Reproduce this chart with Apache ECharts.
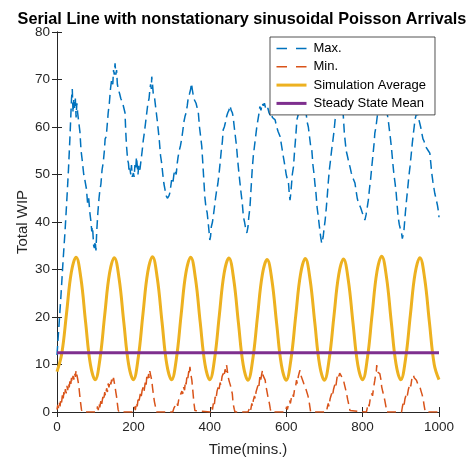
<!DOCTYPE html>
<html>
<head>
<meta charset="utf-8">
<script src="https://cdn.jsdelivr.net/npm/echarts@6/dist/echarts.min.js"></script>
<style>html,body{margin:0;padding:0;background:#fff;}#c{width:468px;height:462px;}</style>
</head>
<body>
<div id="c"></div>
<script>
const titleText = 'Serial Line with nonstationary sinusoidal Poisson Arrivals';
const xName = 'Time(mins.)';
const yName = 'Total WIP';
const seriesNames = ['Max.', 'Min.', 'Simulation Average', 'Steady State Mean'];

// Max. WIP: [time, value]
const maxPoints = [[0,12],[5,18],[10,24],[16,32],[21,38],[26,45],[30,51],[34,58],[38,66],[40,68],[42,63],[44,66],[46,64],[48,66],[50,62],[52,65],[54,63],[57,63],[60,59],[63,55],[66,53],[70,50],[73,48.8],[77,47],[80,44],[83,45],[86,42],[89,40],[91,38],[93,39],[96,35],[98,34.5],[100,36],[102,34],[104,38],[107,42],[110,45],[112,46.5],[115,48],[118,51],[121,52.5],[124,55],[126,57.5],[129,58],[132,61],[134,63],[137,65],[140,68],[143,70],[146,69],[148,72],[150,71],[152,73.4],[154,71],[156,72],[158,69],[161,67.8],[164,67],[167,66],[169,66.4],[172,65],[175,64],[178,63],[180,59],[182,56],[185,53],[187,52.4],[189,50.5],[191,51.3],[193,50],[195,52],[197,49.5],[200,50.3],[202,49.5],[204,52],[206,51],[208,53.7],[210,52],[212,50],[214,52],[217,51],[220,53],[223,55],[226,57.3],[229,59],[232,61],[235,63],[238,65],[241,66],[243,67.8],[245,69],[247,68],[248,70.6],[250,69],[252,67],[255,66.4],[257,66],[260,63],[263,61],[265,59.4],[268,57],[271,54],[274,52.4],[277,50],[280,48],[283,46.7],[286,45.5],[289,45],[291,44.6],[293,45.5],[295,46],[297,47],[300,48.8],[303,48],[306,50],[309,51],[312,50],[315,52.5],[317,53.7],[320,55],[323,56],[326,57.3],[329,59],[332,61],[335,62.2],[338,63],[341,64.5],[344,66.4],[347,67],[350,68],[352,69.2],[354,68],[356,67],[358,66],[361,65.7],[364,65],[367,64],[370,63],[373,60],[376,58],[379,55.9],[382,52],[385,48],[387,45.3],[390,43],[393,42],[396,39.7],[398,38],[400,36.2],[402,37],[404,39],[407,40],[409,41.1],[412,43],[415,45],[418,46.7],[421,48],[424,50],[427,52.4],[430,55],[433,57],[435,59.4],[438,60],[441,61],[444,62.2],[447,63],[450,63.5],[453,64.5],[456,63.5],[459,63],[461,62.2],[464,60],[467,58],[470,55.9],[473,53],[476,50.5],[479,48.2],[482,46],[485,44],[488,41.1],[491,40],[494,38.5],[497,37.7],[500,39],[502,41],[505,43],[508,47],[511,51],[514,54],[517,56],[520,58],[523,60],[526,61.5],[529,63],[531,64.3],[534,63.5],[537,65],[540,64.5],[543,65],[546,64],[549,63.5],[552,64],[555,63],[558,62.5],[561,63],[564,62],[567,62],[571,61.5],[575,60],[579,59],[584,58],[588,56],[592,54],[597,51.6],[600,50],[603,49],[606,48.2],[608,46],[610,44.6],[612,46],[614,48],[616,50],[619,51.6],[622,55],[625,58],[628,61.5],[632,62.8],[636,64],[640,65.5],[644,65],[648,64],[652,63],[655,61],[658,60],[661,58],[664,56],[667,55.2],[670,52],[673,50],[675,48.2],[678,46],[681,43],[684,41.1],[687,39],[690,37],[693,35.5],[695,36.2],[697,37],[699,38.5],[702,40.4],[705,43],[708,46],[710,48.2],[713,51],[716,53],[719,55.2],[722,57],[725,59],[728,61.5],[732,63],[736,64.5],[740,65.5],[745,66],[749,63],[752,59],[754,57.3],[757,55],[760,54],[764,52.5],[767,51.6],[770,50.5],[773,49.5],[776,49],[780,48.2],[783,46.5],[786,45],[789,44],[792,43.5],[795,43],[798,43.2],[801,41.5],[804,41],[806,40.4],[809,41.5],[812,43],[815,44.6],[818,47],[821,49],[824,51.6],[827,54],[830,56.5],[832,58.7],[835,60],[838,62],[841,63.6],[845,65],[850,66],[855,66.5],[860,65],[864,63],[867,61.5],[870,59.5],[873,57.5],[876,55.2],[879,52.5],[882,50],[885,48.2],[888,46],[891,43],[893,41.1],[896,39.5],[899,38.5],[902,37.7],[904,36.5],[906,36.2],[908,38],[910,40],[912,42],[915,44.6],[918,47],[921,49.5],[924,51.6],[927,54],[930,56.5],[933,58.7],[935,60],[937,61.5],[940,62.5],[943,63],[946,62],[949,61],[952,60],[955,58.7],[958,57.5],[961,57],[964,56],[968,55.9],[972,55],[976,54.5],[979,52],[981,50.3],[984,48.5],[987,47],[989,46],[992,45],[994,44.6],[996,43.5],[998,42.5],[1000,41]];

// Min. WIP: [time, value]
const minPoints = [[0,0.5],[2,1.5],[4,0.8],[6,2],[8,1.2],[10,2.8],[12,2],[14,3.5],[16,2.6],[18,4.2],[20,3.4],[22,4.8],[24,3.9],[26,5.5],[28,4.6],[30,6.1],[32,5.2],[34,6.6],[36,5.8],[38,7.2],[40,6.3],[42,7.6],[44,6.8],[46,8.2],[48,7.4],[50,8.8],[52,7.8],[54,7],[56,6.1],[58,4.8],[60,3.2],[62,1.8],[64,0.5],[66,0],
[104,0],[106,1.2],[108,0.4],[110,1.8],[112,1],[115,2.4],[117,1.6],[120,3.2],[122,2.4],[125,4.2],[127,3.4],[130,5],[132,4.2],[134,6],[136,5.2],[139,6.6],[141,5.8],[143,6.8],[145,6],[148,7.2],[150,6.2],[152,5.3],[154,4.2],[156,3.2],[158,1.8],[160,0.5],[162,0],
[200,0],[203,1.1],[205,0.4],[208,2],[210,1.2],[213,3.2],[215,2.4],[218,3.8],[220,3],[223,4.6],[226,5.3],[228,4.4],[231,6.2],[233,5.4],[235,7.4],[237,6.6],[240,8],[241,7.2],[243,8.6],[245,7.8],[248,6.7],[250,5.2],[252,3.9],[255,2.2],[258,1],[261,0],
[303,0],[306,0.8],[309,1.2],[311,0.5],[314,2],[316,1.3],[319,2.8],[322,3.2],[324,2.6],[327,4.4],[329,3.8],[331,5.3],[334,4.6],[336,6.5],[338,5.8],[340,7.4],[342,6.8],[345,8.6],[346,7.8],[348,9.5],[350,8.2],[353,6.7],[355,5],[357,3.2],[359,1.6],[361,0.3],[363,0],
[401,0],[403,0.6],[405,1.1],[407,0.5],[410,2.2],[412,1.6],[414,3.2],[416,2.6],[419,4.4],[422,5.3],[424,4.6],[427,6.2],[429,5.6],[432,7.4],[435,8.1],[437,7.4],[440,9],[442,8.4],[444,9.9],[446,8.6],[448,7.4],[451,6.4],[454,5.6],[457,5.3],[459,3.8],[461,1.8],[464,0.6],[466,0],
[500,0],[503,0.3],[505,1],[507,0.4],[510,1.8],[512,1.2],[514,2.5],[517,3.4],[519,2.8],[521,4.2],[523,4.6],[526,5.6],[528,5],[531,7.4],[533,6.6],[536,8],[538,8.8],[540,7.6],[542,7.2],[545,6.7],[547,5.4],[549,4.6],[552,3.3],[554,2.5],[556,1.8],[558,0.8],[560,0],
[598,0],[601,1.1],[603,0.5],[606,1.6],[609,2.4],[611,1.8],[614,3.2],[617,3.8],[619,3.2],[622,4.8],[625,5.6],[627,6.7],[629,6],[632,7.6],[634,8.2],[636,8.8],[638,7.8],[641,7.4],[643,6.7],[646,6],[648,5.6],[651,5],[654,4.6],[657,3.4],[660,2.2],[662,1.1],[664,0],
[705,0],[708,1.1],[710,1.8],[712,1.2],[715,2.8],[719,3.9],[721,3.3],[724,4.8],[728,6],[730,5.4],[733,7.2],[736,8.1],[738,7.5],[740,8.2],[742,8.5],[744,7.6],[747,7.2],[750,6.7],[753,5.6],[756,4.6],[758,3.9],[761,2.6],[764,1.5],[767,0.3],[769,0],
[810,0],[813,1.2],[815,1.8],[817,1.2],[820,2.8],[824,3.9],[826,3.4],[829,5.2],[832,6.7],[834,7.8],[836,8.6],[837,9.9],[839,8.4],[842,8.8],[845,8.1],[848,6.8],[850,5.3],[853,4.2],[856,3.2],[858,2.5],[861,1.2],[863,0],
[902,0],[904,1],[906,1.8],[908,1.2],[911,2.8],[915,3.9],[917,3.4],[920,4.8],[924,6],[926,5.4],[929,7],[931,6.8],[933,7.8],[935,7.2],[938,7.4],[941,6.7],[944,6],[947,5.6],[950,5.3],[953,4.4],[956,3.6],[959,2.5],[961,1.4],[964,0],[1000,0]];

// Simulation average, sampled every 12.5 minutes from t=0 to t=1000
const avgStep = 12.5;
const avgValues = [
  8.5, 12.3, 20.8, 29.4, 32.6, 28.2, 18.8, 10.0,
  6.8, 11.2, 20.5, 29.2, 32.5, 28.1, 18.8, 10.0,
  6.8, 11.3, 20.6, 29.4, 32.7, 28.2, 18.9, 10.0,
  6.8, 11.2, 20.5, 29.3, 32.6, 28.1, 18.8, 10.0,
  6.8, 11.2, 20.4, 29.2, 32.4, 28.0, 18.7, 9.9,
  6.7, 11.1, 20.2, 28.9, 32.1, 27.8, 18.6, 9.9,
  6.7, 11.1, 20.3, 29.0, 32.3, 27.9, 18.7, 9.9,
  6.7, 11.1, 20.2, 28.9, 32.2, 27.8, 18.6, 9.9,
  6.8, 11.3, 20.6, 29.5, 32.8, 28.4, 19.0, 10.1,
  6.8, 11.2, 20.4, 29.2, 32.5, 28.1, 18.8, 10.0,
  6.8
];
const steadyStateMean = 12.5;
const xRange = [0, 1000];
const yRange = [0, 80];

const avgPoints = avgValues.map((v, i) => [i * avgStep, v]);
const ssPoints = [[xRange[0], steadyStateMean], [xRange[1], steadyStateMean]];

const axisCol = '#262626';
const font = 'Liberation Sans, Arial, Helvetica, sans-serif';
const legendDash = [10.5, 9];

const chart = echarts.init(document.getElementById('c'), null, {renderer: 'canvas'});
chart.setOption({
  animation: false,
  backgroundColor: '#fff',
  title: {
    text: titleText, left: 237, textAlign: 'center', top: 7,
    textStyle: {fontFamily: font, fontSize: 16.25, fontWeight: 'bold', color: '#000'}
  },
  grid: {left: 57, right: 29, top: 32, bottom: 50, containLabel: false},
  legend: {
    orient: 'vertical', left: 270, top: 37,
    padding: [5, 9, 5, 5],
    itemWidth: 30, itemHeight: 14, itemGap: 5.3,
    itemStyle: {opacity: 0},
    backgroundColor: '#fff', borderColor: axisCol, borderWidth: 0.8,
    textStyle: {fontFamily: font, fontSize: 13, color: '#000', padding: [0, 0, 0, 2]},
    data: [
      {name: seriesNames[0], lineStyle: {type: legendDash, width: 1.5}},
      {name: seriesNames[1], lineStyle: {type: legendDash, width: 1.5}},
      {name: seriesNames[2], lineStyle: {width: 3}},
      {name: seriesNames[3], lineStyle: {width: 3}}
    ]
  },
  xAxis: [{
    type: 'value', min: xRange[0], max: xRange[1], interval: 200,
    name: xName, nameLocation: 'middle', nameGap: 30,
    nameTextStyle: {fontFamily: font, fontSize: 15, color: axisCol},
    axisLine: {show: true, lineStyle: {color: axisCol, width: 1}},
    axisTick: {show: true, inside: true, length: 5, lineStyle: {color: axisCol}},
    axisLabel: {fontFamily: font, fontSize: 13.5, color: axisCol, margin: 8, formatter: v => String(v)},
    splitLine: {show: false}
  }, {
    type: 'value', position: 'top', min: xRange[0], max: xRange[1], interval: 200,
    axisLine: {show: true, lineStyle: {color: axisCol, width: 1}},
    axisTick: {show: true, inside: true, length: 5, lineStyle: {color: axisCol}},
    axisLabel: {show: false}, splitLine: {show: false}
  }],
  yAxis: [{
    type: 'value', min: yRange[0], max: yRange[1], interval: 10,
    name: yName, nameLocation: 'middle', nameGap: 27, nameRotate: 90, nameMoveOverlap: false,
    nameTextStyle: {fontFamily: font, fontSize: 15, color: axisCol},
    axisLine: {show: true, lineStyle: {color: axisCol, width: 1}},
    axisTick: {show: true, inside: true, length: 5, lineStyle: {color: axisCol}},
    axisLabel: {fontFamily: font, fontSize: 13.5, color: axisCol, margin: 7},
    splitLine: {show: false}
  }, {
    type: 'value', position: 'right', min: yRange[0], max: yRange[1], interval: 10,
    axisLine: {show: true, lineStyle: {color: axisCol, width: 1}},
    axisTick: {show: true, inside: true, length: 5, lineStyle: {color: axisCol}},
    axisLabel: {show: false}, splitLine: {show: false}
  }],
  series: [{
    name: seriesNames[0], type: 'line', data: maxPoints, symbol: 'none',
    lineStyle: {color: '#0072BD', width: 1.5, type: [9, 5]}, itemStyle: {color: '#0072BD'}
  }, {
    name: seriesNames[1], type: 'line', data: minPoints, symbol: 'none',
    lineStyle: {color: '#D95319', width: 1.5, type: [9, 5]}, itemStyle: {color: '#D95319'}
  }, {
    name: seriesNames[2], type: 'line', data: avgPoints, symbol: 'none', smooth: 0.4,
    lineStyle: {color: '#EDB120', width: 3}, itemStyle: {color: '#EDB120'}
  }, {
    name: seriesNames[3], type: 'line', data: ssPoints, symbol: 'none',
    lineStyle: {color: '#7E2F8E', width: 3}, itemStyle: {color: '#7E2F8E'}
  }]
});
</script>
</body>
</html>
